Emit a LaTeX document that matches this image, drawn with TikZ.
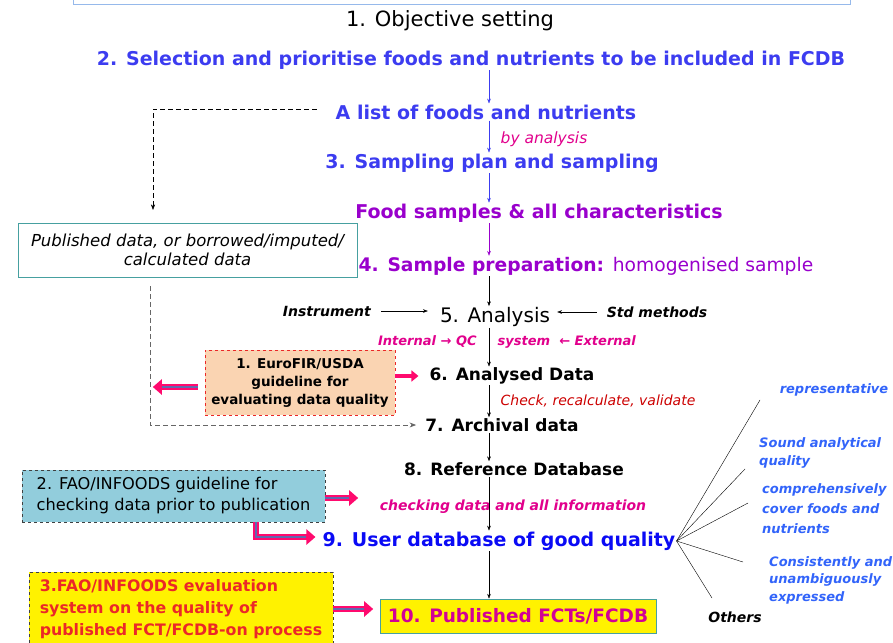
\documentclass[tikz,border=0pt]{standalone}
\usepackage{fontspec}
\setmainfont{DejaVu Sans}
\usetikzlibrary{arrows.meta,positioning}

\definecolor{stepblue}{RGB}{60,60,240}
\definecolor{userblue}{RGB}{10,10,245}
\definecolor{samplepurple}{RGB}{153,0,204}
\definecolor{qcmagenta}{RGB}{225,0,140}
\definecolor{checkred}{RGB}{204,0,0}
\definecolor{fanblue}{RGB}{50,100,250}
\definecolor{boxteal}{RGB}{70,160,160}
\definecolor{peach}{RGB}{250,212,178}
\definecolor{guideblue}{RGB}{146,205,220}
\definecolor{arrowpink}{RGB}{255,10,110}
\definecolor{arrowcore}{RGB}{95,105,175}
\definecolor{frameblue}{RGB}{150,185,235}
\definecolor{pubmagenta}{RGB}{210,0,150}
\definecolor{guidered}{RGB}{235,40,40}

% pink guideline arrow: pink outline with a blue core
\newcommand\pinkpath[1]{\draw[pinkdbl] #1; \draw[pinkcore] #1;}

\begin{document}
\begin{tikzpicture}[x=1pt, y=-1pt, >=Stealth,
    every node/.style={inner sep=1pt},
    stage/.style={font=\bfseries\fontsize{19}{23}\selectfont},
    stagesm/.style={font=\bfseries\fontsize{17}{21}\selectfont},
    plain/.style={font=\fontsize{20}{24}\selectfont},
    note/.style={font=\bfseries\itshape\fontsize{14}{17}\selectfont},
    remark/.style={font=\itshape\fontsize{14}{17}\selectfont},
    dashline/.style={dash pattern=on 5pt off 3pt, semithick},
    pinkdbl/.style={draw=arrowpink, line width=6pt, -{Triangle[length=9pt,width=15pt]}},
    pinkcore/.style={draw=arrowcore, line width=2pt, shorten >=9pt},
    pinksolid/.style={draw=arrowpink, line width=4pt, -{Triangle[length=7pt,width=11pt]}},
    fanlbl/.style={text=fanblue, align=left, anchor=north west}]
  \useasboundingbox (0,0) rectangle (893,642);

  % frame remnant at the top
  \draw[frameblue, thick] (73,-3) -- (73,4) -- (850,4) -- (850,-3);

  % main sequence
  \node[plain, font=\fontsize{21}{25}\selectfont] (obj) at (450,21) {1. Objective setting};
  \node[stage, text=stepblue] (sel) at (471,60) {2. Selection and prioritise foods and nutrients to be included in FCDB};
  \node[stage, text=stepblue] (list) at (486,112) {A list of foods and nutrients};
  \node[stage, text=stepblue] (samp) at (492,163) {3. Sampling plan and sampling};
  \node[stage, text=samplepurple] (fsam) at (539,213) {Food samples \& all characteristics};
  \node[stage, text=samplepurple, font=\bfseries\fontsize{18.7}{23}\selectfont] (prep) at (586,266) {4. Sample preparation: {\mdseries homogenised sample}};
  \node[plain] (ana) at (495,317) {5. Analysis};
  \node[note, anchor=east] (inst) at (372,311) {Instrument};
  \node[note] (std) at (657,312) {Std methods};
  \node[note, text=qcmagenta, font=\bfseries\itshape\fontsize{13}{16}\selectfont] (qc) at (507,342) {Internal → QC \hspace{12pt} system \ ← External};
  \node[stagesm] (ad) at (512,376) {6. Analysed Data};
  \node[stagesm] (arch) at (502,425) {7. Archival data};
  \node[stagesm] (ref) at (514,469) {8. Reference Database};
  \node[note, text=qcmagenta] (chk) at (513,507) {checking data and all information};
  \node[stage, text=userblue] (user) at (499,541) {9. User database of good quality};
  \node[draw=boxteal, fill=yellow, thick, minimum width=276pt, minimum height=34pt,
        text=pubmagenta, font=\bfseries\fontsize{18.5}{23}\selectfont] (pub) at (518,616) {10. Published FCTs/FCDB};

  \node[remark, text=qcmagenta, font=\itshape\fontsize{15.5}{18}\selectfont] (byan) at (544,139) {by analysis};
  \node[remark, text=checkred] (valid) at (598,401) {Check, recalculate, validate};

  % side boxes
  \node[draw=boxteal, minimum width=339pt, minimum height=54pt, align=center,
        font=\itshape\fontsize{16.5}{19}\selectfont] (pubd) at (187.5,250) {Published data, or borrowed/imputed/\\calculated data};
  \node[draw=guidered, dashed, fill=peach, minimum width=190pt, minimum height=65pt, align=center,
        font=\bfseries\fontsize{13.5}{18}\selectfont] (euro) at (300,382.5) {1. EuroFIR/USDA\\guideline for\\evaluating data quality};
  \node[draw=darkgray, dashed, fill=guideblue, minimum width=303pt, minimum height=52pt, align=left,
        font=\fontsize{16.2}{21}\selectfont] (fao2) at (173.5,496) {2. FAO/INFOODS guideline for\\checking data prior to publication};
  \node[draw=darkgray, dashed, fill=yellow, minimum width=304pt, minimum height=74pt, align=left, text=guidered,
        font=\bfseries\fontsize{15.8}{22}\selectfont] (fao3) at (181,609) {3.FAO/INFOODS evaluation\\system on the quality of\\published FCT/FCDB-on process};

  % qualities of the user database
  \node[fanlbl, anchor=center, font=\bfseries\itshape\fontsize{13}{16}\selectfont] (rep) at (834,390) {representative};
  \node[fanlbl, font=\bfseries\itshape\fontsize{13}{18}\selectfont] (sound) at (758,436) {Sound analytical\\quality};
  \node[fanlbl, font=\bfseries\itshape\fontsize{13}{20}\selectfont] (comp) at (761,482) {comprehensively\\cover foods and\\nutrients};
  \node[fanlbl, font=\bfseries\itshape\fontsize{13}{17.5}\selectfont] (cons) at (768,555) {Consistently and\\unambiguously\\expressed};
  \node[note] (oth) at (735,617) {Others};

  % vertical flow
  \coordinate (ax) at (489,0);
  \draw[->, stepblue] (sel.south -| ax) -- (list.north -| ax);
  \draw[->, stepblue] (list.south -| ax) -- (samp.north -| ax);
  \draw[->, stepblue] (samp.south -| ax) -- (fsam.north -| ax);
  \draw[->, samplepurple] (fsam.south -| ax) -- (prep.north -| ax);
  \draw[->] (prep.south -| ax) -- (ana.north -| ax);
  \draw[->] (ana.south -| ax) -- (ad.north -| ax);
  \draw[->] (ad.south -| ax) -- (arch.north -| ax);
  \draw[->] (arch.south -| ax) -- (ref.north -| ax);
  \draw[->] (ref.south -| ax) -- (user.north -| ax);
  \draw[->] (user.south -| ax) -- (pub.north -| ax);
  \draw[->] ([xshift=9pt]inst.east) -- ([xshift=-11pt]inst.east -| ana.west);
  \draw[->] ([xshift=-9pt]std.west) -- ([xshift=6pt]std.west -| ana.east);

  % published-data route
  \coordinate (dtop) at (153,210);
  \coordinate (gstart) at (150,286);
  \draw[dashline, ->] ([xshift=-18pt,yshift=3pt]list.west) -| (dtop);
  \draw[dashline, gray!80!black, thick, ->] (gstart) |- ([xshift=-8pt]arch.west);

  % guideline arrows
  \pinkpath{([xshift=-7pt,yshift=-4.5pt]euro.west) -- ++(-45,0)}
  \draw[pinksolid] (euro.east |- ad) -- ([xshift=-10pt]ad.west);
  \coordinate (fx) at (256,0);
  \pinkpath{([yshift=-2pt]fao2.east) -- ++(33,0)}
  \pinkpath{(fao2.south -| fx) |- ([xshift=-6pt,yshift=4pt]user.west)}
  \pinkpath{(fao3.east) -- ++(40,0)}

  % fan of qualities
  \coordinate (f1) at (760,400);
  \coordinate (f2) at (745,469);
  \coordinate (f3) at (748,503);
  \coordinate (f4) at (743,562);
  \coordinate (f5) at (712,598);
  \foreach \f in {f1,f2,f3,f4,f5}
    \draw (user.east) -- (\f);
\end{tikzpicture}
\end{document}
